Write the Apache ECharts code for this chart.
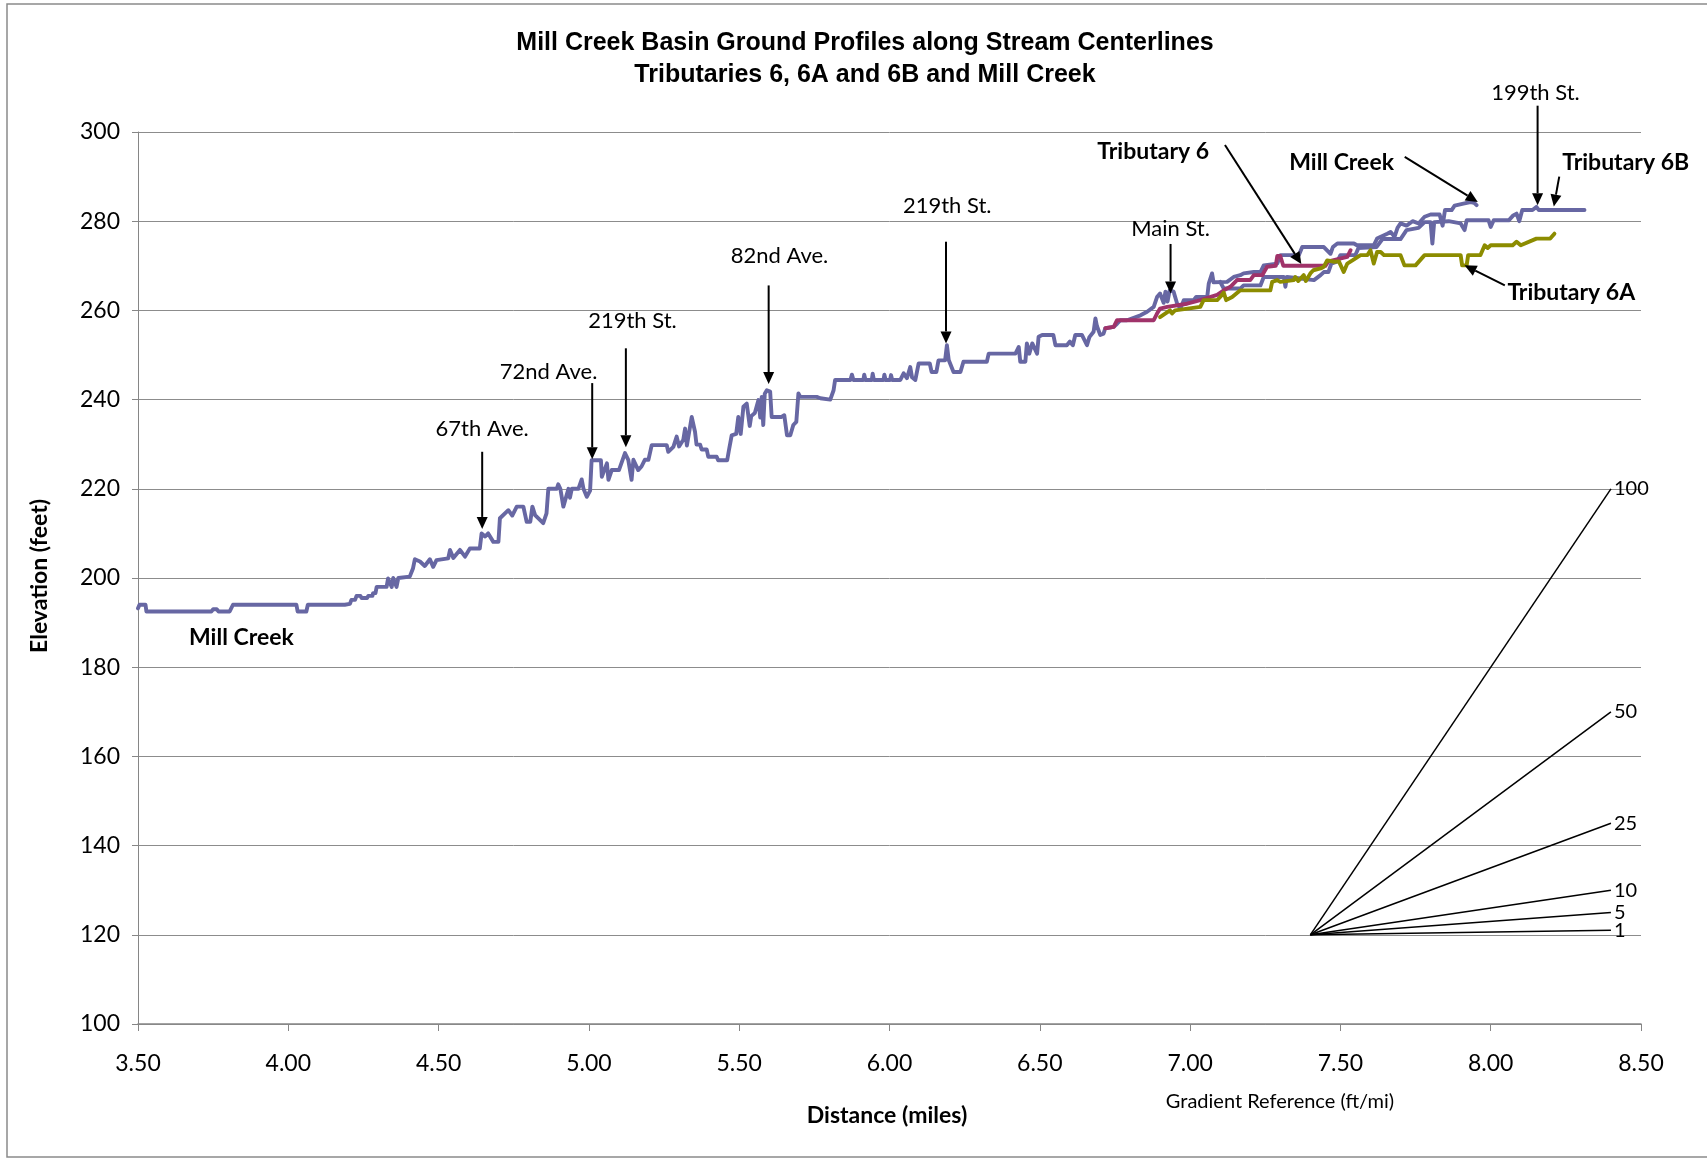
<!DOCTYPE html>
<html><head><meta charset="utf-8">
<script src="https://cdn.jsdelivr.net/npm/echarts@6/dist/echarts.min.js"></script>
<style>html,body{margin:0;padding:0;background:#fff}#chart{width:1707px;height:1161px}</style>
</head><body><div id="chart"></div>
<script>
// ---- Data (distance in miles, elevation in feet) ----
const millCreek = [[3.500,193.2],[3.505,194],[3.525,194],[3.528,192.5],[3.744,192.5],[3.750,193],[3.762,193],[3.768,192.5],[3.805,192.5],[3.816,194],[4.027,194],[4.031,192.5],[4.060,192.5],[4.065,194],[4.188,194],[4.205,194.2],[4.210,195.1],[4.222,195.1],[4.227,196],[4.240,196],[4.244,195.5],[4.262,195.5],[4.266,196],[4.280,196],[4.282,196.6],[4.290,196.6],[4.294,198],[4.327,198],[4.332,199.9],[4.344,198],[4.349,200],[4.360,198],[4.366,200],[4.404,200.3],[4.415,202.2],[4.421,204.2],[4.438,203.7],[4.454,202.7],[4.471,204.2],[4.482,202.5],[4.493,204],[4.532,204.4],[4.538,206.3],[4.549,204.5],[4.571,206.3],[4.588,204.8],[4.604,206.6],[4.637,206.6],[4.643,210],[4.655,209.3],[4.665,210],[4.682,208.1],[4.699,208.1],[4.704,213.4],[4.732,215.2],[4.745,214],[4.760,216],[4.782,216],[4.793,212.6],[4.805,212.6],[4.812,216],[4.821,214.1],[4.848,212.3],[4.859,214.5],[4.865,220],[4.893,220],[4.898,221],[4.905,220],[4.915,216],[4.932,220],[4.937,218],[4.943,220],[4.965,220],[4.976,222.1],[4.982,220],[4.993,218.2],[5.004,219.6],[5.009,226.4],[5.040,226.4],[5.043,222.7],[5.060,225.7],[5.065,222],[5.076,224.2],[5.100,224.2],[5.120,228],[5.131,226.5],[5.142,222],[5.148,226.5],[5.164,224.2],[5.175,225],[5.186,226.5],[5.198,226.5],[5.209,229.8],[5.259,229.8],[5.264,228.3],[5.281,229.4],[5.292,231.7],[5.300,229.5],[5.314,231],[5.320,233.5],[5.326,229.7],[5.342,236.1],[5.353,232.8],[5.358,229.9],[5.370,229.9],[5.375,228.8],[5.392,228.8],[5.397,227.2],[5.425,227.2],[5.430,226.4],[5.460,226.4],[5.466,228.7],[5.475,232],[5.490,232.3],[5.497,236.1],[5.505,232.3],[5.514,238.4],[5.525,239.1],[5.535,234.1],[5.540,236.3],[5.552,237],[5.564,239.9],[5.570,236],[5.575,240.6],[5.580,234.3],[5.585,241.3],[5.592,242.1],[5.603,241.8],[5.608,236.1],[5.641,236.1],[5.650,236.5],[5.659,232],[5.670,232],[5.680,234.3],[5.690,235],[5.697,241.4],[5.703,240.6],[5.758,240.6],[5.770,240.3],[5.803,240],[5.814,242.1],[5.819,244.4],[5.870,244.4],[5.875,245.6],[5.880,244.4],[5.913,244.4],[5.916,245.6],[5.920,244.4],[5.941,244.4],[5.944,245.8],[5.948,244.4],[5.980,244.4],[5.983,245.6],[5.987,244.4],[6.002,244.4],[6.005,245.5],[6.009,244.4],[6.036,244.4],[6.047,245.9],[6.058,244.8],[6.069,247.3],[6.075,245],[6.086,244.4],[6.097,248.1],[6.134,248.1],[6.140,246.2],[6.156,246.2],[6.163,248.8],[6.185,248.8],[6.191,252.2],[6.197,248.9],[6.213,246.2],[6.236,246.2],[6.246,248.5],[6.324,248.5],[6.330,250.3],[6.419,250.3],[6.430,251.8],[6.435,248.5],[6.452,248.5],[6.457,252.6],[6.465,250.3],[6.475,252.6],[6.491,250.3],[6.496,254.1],[6.508,254.5],[6.545,254.5],[6.552,252.2],[6.590,252.2],[6.600,253],[6.610,252.2],[6.618,254.5],[6.640,254.5],[6.657,252.2],[6.665,254],[6.679,255.2],[6.685,258.2],[6.690,256.5],[6.701,254.5],[6.712,254.8],[6.718,256],[6.746,256.3],[6.757,257],[6.768,257.8],[6.790,257.8],[6.835,258.9],[6.857,259.7],[6.879,260.8],[6.890,263],[6.900,263.8],[6.912,261.7],[6.918,264.2],[6.925,262],[6.932,264.5],[6.945,264.2],[6.957,261.5],[6.968,260.4],[6.979,262.3],[7.012,262.3],[7.020,263],[7.057,263],[7.062,266],[7.073,268.3],[7.078,266.3],[7.123,266.4],[7.145,267.5],[7.167,267.9],[7.178,268.3],[7.212,268.6],[7.234,268.6],[7.245,270.1],[7.290,270.5],[7.301,272.4],[7.362,272.4],[7.373,274.2],[7.445,274.2],[7.467,272.7],[7.475,274.2],[7.490,275],[7.545,275],[7.555,274.6],[7.611,274.6],[7.622,276.1],[7.656,277.2],[7.667,277.6],[7.680,276.5],[7.690,278.5],[7.700,279.5],[7.720,279],[7.740,280],[7.760,279.5],[7.780,281],[7.800,281.5],[7.830,281.5],[7.840,279],[7.848,282.5],[7.870,282.5],[7.880,283.5],[7.913,284],[7.933,284.3],[7.945,284.1],[7.953,283.6]];

const trib6B = [[7.100,266.4],[7.112,264.9],[7.167,264.9],[7.178,265.6],[7.234,265.6],[7.245,267.5],[7.312,267.5],[7.317,265.3],[7.322,267.5],[7.360,267.2],[7.412,266.8],[7.434,267.9],[7.445,268.6],[7.460,268.6],[7.470,270.5],[7.490,271],[7.500,272.4],[7.550,272.4],[7.560,274],[7.620,274.2],[7.640,276],[7.700,276],[7.720,278],[7.760,278.5],[7.780,279.8],[7.800,279.8],[7.806,275],[7.812,279.8],[7.860,280],[7.900,279.5],[7.913,278],[7.920,280.2],[7.993,280.2],[8.000,278.7],[8.010,280.2],[8.060,280.2],[8.075,281.3],[8.086,281.7],[8.095,280],[8.105,282.5],[8.139,282.5],[8.152,283.2],[8.160,282.5],[8.312,282.5]];

const trib6 = [[6.718,256],[6.746,256.3],[6.757,257.8],[6.879,257.8],[6.890,259.3],[6.900,260.4],[6.924,260.8],[6.990,261.5],[7.034,262.3],[7.090,263.5],[7.112,264.5],[7.134,265.3],[7.156,266.8],[7.200,266.8],[7.212,267.9],[7.240,267.9],[7.256,269.8],[7.285,270],[7.290,272.2],[7.300,272.2],[7.310,270],[7.450,270],[7.460,271],[7.523,272],[7.534,273.5]];

const trib6A = [[6.900,258.5],[6.933,260],[6.940,259.3],[6.950,260],[7.034,260.8],[7.045,262.3],[7.090,262.3],[7.100,263],[7.112,264],[7.120,262.3],[7.140,263],[7.167,264.5],[7.267,264.5],[7.273,266.4],[7.290,266.8],[7.300,266.4],[7.345,266.8],[7.350,267.5],[7.360,266.6],[7.378,267.9],[7.385,266.6],[7.400,268.3],[7.410,269],[7.434,269.4],[7.445,269.8],[7.456,271.2],[7.480,270.9],[7.495,271],[7.511,268.6],[7.523,270.5],[7.540,271.2],[7.567,272.4],[7.590,272.4],[7.600,273.5],[7.611,270.5],[7.622,273.1],[7.634,273.1],[7.645,272.4],[7.700,272.4],[7.713,270.1],[7.750,270.1],[7.780,272.4],[7.900,272.4],[7.905,270.1],[7.920,270.1],[7.925,272.4],[7.966,272.4],[7.980,274.6],[7.990,274],[8.000,274.6],[8.073,274.6],[8.086,275.4],[8.100,274.6],[8.152,276.1],[8.198,276.1],[8.212,277.2]];

// Gradient reference (ft/mi): lines from start point, one mile long
const gradLabels = ['1','5','10','25','50','100'];
const gradStart = [7.4, 120];
const gradEndX = 8.4;
const gradEndY = [121, 125, 130, 145, 170, 220];

// Axis ticks
const xTicks = {min: 3.5, max: 8.5, step: 0.5};
const yTicks = {min: 100, max: 300, step: 20};

// Annotation texts: [x, y, text, bold]
const noteTexts = [
  [4.645, 233.4, '67th Ave.', 0],
  [4.866, 246.3, '72nd Ave.', 0],
  [5.145, 257.6, '219th St.', 0],
  [5.634, 272.2, '82nd Ave.', 0],
  [6.192, 283.4, '219th St.', 0],
  [6.935, 278.3, 'Main St.', 0],
  [8.149, 308.8, '199th St.', 0],
  [6.877, 295.6, 'Tributary 6', 1],
  [7.504, 293.2, 'Mill Creek', 1],
  [8.449, 293.2, 'Tributary 6B', 1],
  [8.268, 263.9, 'Tributary 6A', 1],
  [3.844, 186.6, 'Mill Creek', 1]
];
// Arrows: [x1, y1, x2 (tip), y2 (tip)]
const arrows = [
  [4.645, 228.3, 4.645, 211.0],
  [5.011, 243.7, 5.011, 226.6],
  [5.123, 251.5, 5.123, 229.3],
  [5.598, 265.6, 5.598, 243.5],
  [6.188, 275.4, 6.188, 252.6],
  [6.935, 274.9, 6.935, 263.8],
  [8.156, 305.9, 8.156, 283.6],
  [7.116, 297.1, 7.370, 270.4],
  [7.714, 294.4, 7.957, 284.3],
  [8.228, 290.0, 8.210, 283.3],
  [8.047, 265.6, 7.913, 270.1]
];

const FONT = 'Lato, "Open Sans", sans-serif';
const chart = echarts.init(document.getElementById('chart'), null, {renderer: 'canvas'});

const gradSeries = gradLabels.map((lab, i) => ({
  type: 'line', name: 'g' + lab, silent: true, animation: false,
  data: [gradStart, [gradEndX, gradEndY[i]]],
  showSymbol: false, symbol: 'none',
  lineStyle: {color: '#000', width: 1.5},
  endLabel: {show: true, formatter: lab, color: '#000', fontSize: 20, fontFamily: FONT, distance: 3}
}));

const profile = (name, data, color, z) => ({
  type: 'line', name, data, showSymbol: false, symbol: 'none', animation: false, z,
  lineStyle: {color, width: 3.9, join: 'round', cap: 'round'}
});

const option = {
  animation: false,
  backgroundColor: '#fff',
  title: {
    text: 'Mill Creek Basin Ground Profiles along Stream Centerlines\nTributaries 6, 6A and 6B and Mill Creek',
    left: 860, textAlign: 'center', top: 22,
    textStyle: {fontFamily: '"Liberation Sans", Arial, sans-serif', fontWeight: 'bold', fontSize: 25, lineHeight: 32, color: '#000'}
  },
  grid: {left: 138, right: 66, top: 132, bottom: 137, containLabel: false},
  xAxis: {
    type: 'value', min: xTicks.min, max: xTicks.max, interval: xTicks.step,
    axisLine: {show: true, lineStyle: {color: '#868686', width: 1.5}},
    axisTick: {show: true, length: 7, lineStyle: {color: '#868686'}},
    axisLabel: {formatter: v => v.toFixed(2), color: '#000', fontSize: 23, fontFamily: FONT, margin: 28},
    splitLine: {show: false}
  },
  yAxis: {
    type: 'value', min: yTicks.min, max: yTicks.max, interval: yTicks.step,
    axisLine: {show: true, lineStyle: {color: '#868686', width: 1}},
    axisTick: {show: true, length: 6, lineStyle: {color: '#868686'}},
    axisLabel: {color: '#000', fontSize: 23, fontFamily: FONT, margin: 18},
    splitLine: {show: true, lineStyle: {color: '#8c8c8c', width: 1}}
  },
  graphic: [
    {type: 'rect', shape: {x: 7, y: 4, width: 1720, height: 1153}, style: {fill: 'none', stroke: '#8a8a8a', lineWidth: 1.5}, silent: true},
    {type: 'text', x: 40, y: 576, rotation: Math.PI / 2,
      style: {text: 'Elevation (feet)', fontFamily: FONT, fontWeight: 'bold', fontSize: 23, fill: '#000', align: 'center', verticalAlign: 'middle'}},
    {type: 'text', x: 887, y: 1116,
      style: {text: 'Distance (miles)', fontFamily: FONT, fontWeight: 'bold', fontSize: 23, fill: '#000', align: 'center', verticalAlign: 'middle'}},
    {type: 'text', x: 1280, y: 1102,
      style: {text: 'Gradient Reference (ft/mi)', fontFamily: FONT, fontSize: 20, fill: '#000', align: 'center', verticalAlign: 'middle'}}
  ],
  series: [
    ...gradSeries,
    profile('Mill Creek', millCreek, '#6767A3', 3),
    profile('Tributary 6B', trib6B, '#6767A3', 3),
    profile('Tributary 6', trib6, '#A0336A', 4),
    profile('Tributary 6A', trib6A, '#8C8C00', 5),
    {
      type: 'custom', name: 'arrows', silent: true, animation: false, z: 10,
      encode: {x: [0, 2], y: [1, 3]},
      data: arrows,
      renderItem: (params, api) => {
        const p1 = api.coord([api.value(0), api.value(1)]);
        const p2 = api.coord([api.value(2), api.value(3)]);
        const a = Math.atan2(p2[1] - p1[1], p2[0] - p1[0]);
        const L = 12, W = 5.5;
        const b = [p2[0] - L * Math.cos(a), p2[1] - L * Math.sin(a)];
        const l = [b[0] + W * Math.sin(a), b[1] - W * Math.cos(a)];
        const r = [b[0] - W * Math.sin(a), b[1] + W * Math.cos(a)];
        return {type: 'group', children: [
          {type: 'line', shape: {x1: p1[0], y1: p1[1], x2: b[0], y2: b[1]}, style: {stroke: '#000', lineWidth: 2}},
          {type: 'polygon', shape: {points: [p2, l, r]}, style: {fill: '#000'}}
        ]};
      }
    },
    {
      type: 'custom', name: 'notes', silent: true, animation: false, z: 11,
      encode: {x: 0, y: 1},
      data: noteTexts,
      renderItem: (params, api) => {
        const d = noteTexts[params.dataIndex];
        const p = api.coord([d[0], d[1]]);
        return {type: 'text', x: p[0], y: p[1], style: {
          text: d[2], fontFamily: FONT, fontSize: d[3] ? 23 : 22, fontWeight: d[3] ? 'bold' : 'normal',
          fill: '#000', align: 'center', verticalAlign: 'middle'}};
      }
    }
  ]
};
chart.setOption(option);
</script>
</body></html>
